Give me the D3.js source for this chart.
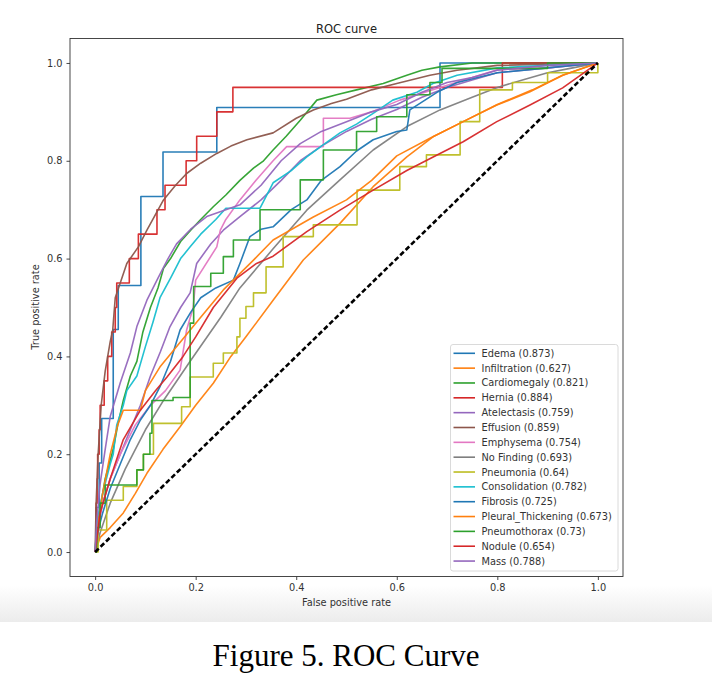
<!DOCTYPE html>
<html><head><meta charset="utf-8">
<script src="https://cdn.jsdelivr.net/npm/d3@7"></script>
<style>body{margin:0;background:#fff}</style>
</head><body><svg id="c" width="712" height="688"></svg>
<script>
const labels = ["Edema","Infiltration","Cardiomegaly","Hernia","Atelectasis","Effusion","Emphysema","No Finding","Pneumonia","Consolidation","Fibrosis","Pleural_Thickening","Pneumothorax","Nodule","Mass"];
const aucs = ["0.873","0.627","0.821","0.884","0.759","0.859","0.754","0.693","0.64","0.782","0.725","0.673","0.73","0.654","0.788"];
const palette = ["#1f77b4","#ff7f0e","#2ca02c","#d62728","#9467bd","#8c564b","#e377c2","#7f7f7f","#bcbd22","#17becf"];
const xTicks = [0,0.2,0.4,0.6,0.8,1.0];
const yTicks = [0,0.2,0.4,0.6,0.8,1.0];
const stepped = ["Edema","Hernia","Pneumothorax","Pneumonia"];

// ROC points [fpr, tpr]
const edema = [[0,0],[0.002,0.091],[0.008,0.182],[0.013,0.273],[0.036,0.455],[0.046,0.545],[0.091,0.727],[0.135,0.818],[0.242,0.909],[0.686,1.0],[1,1]];
const infiltration = [[0,0],[0.01,0.03],[0.03,0.05],[0.056,0.08],[0.08,0.12],[0.103,0.161],[0.135,0.21],[0.169,0.256],[0.2,0.3],[0.235,0.345],[0.27,0.4],[0.30,0.44],[0.354,0.515],[0.414,0.597],[0.487,0.672],[0.553,0.747],[0.62,0.808],[0.672,0.849],[0.732,0.88],[0.8,0.915],[0.87,0.945],[0.93,0.975],[1,1]];
const cardiomegaly = [[0,0],[0.003,0.05],[0.01,0.09],[0.02,0.15],[0.036,0.21],[0.045,0.26],[0.056,0.31],[0.07,0.36],[0.083,0.39],[0.095,0.45],[0.11,0.5],[0.125,0.54],[0.136,0.58],[0.15,0.6],[0.17,0.635],[0.19,0.658],[0.21,0.68],[0.235,0.706],[0.26,0.73],[0.288,0.76],[0.315,0.785],[0.335,0.80],[0.354,0.822],[0.38,0.85],[0.408,0.883],[0.441,0.924],[0.48,0.935],[0.52,0.945],[0.573,0.958],[0.62,0.975],[0.65,0.985],[0.686,0.992],[0.75,1],[1,1]];
const hernia = [[0,0],[0.002,0.10],[0.004,0.15],[0.005,0.20],[0.008,0.25],[0.010,0.30],[0.018,0.35],[0.025,0.40],[0.033,0.45],[0.040,0.50],[0.043,0.55],[0.068,0.60],[0.086,0.65],[0.123,0.70],[0.139,0.75],[0.181,0.80],[0.202,0.85],[0.242,0.90],[0.274,0.95],[0.81,1.0],[1,1]];
const atelectasis = [[0,0],[0.005,0.05],[0.015,0.1],[0.03,0.15],[0.05,0.2],[0.07,0.25],[0.09,0.3],[0.11,0.36],[0.13,0.41],[0.149,0.461],[0.17,0.5],[0.189,0.53],[0.202,0.59],[0.23,0.63],[0.255,0.658],[0.288,0.686],[0.33,0.72],[0.37,0.76],[0.408,0.80],[0.45,0.83],[0.5,0.86],[0.55,0.885],[0.6,0.905],[0.65,0.93],[0.7,0.95],[0.75,0.965],[0.8,0.98],[0.9,0.99],[1,1]];
const effusion = [[0,0],[0.002,0.1],[0.006,0.2],[0.012,0.3],[0.02,0.37],[0.03,0.43],[0.035,0.454],[0.04,0.52],[0.063,0.59],[0.086,0.624],[0.103,0.658],[0.136,0.72],[0.16,0.75],[0.182,0.774],[0.21,0.795],[0.242,0.815],[0.27,0.83],[0.302,0.843],[0.354,0.857],[0.40,0.887],[0.434,0.904],[0.47,0.917],[0.50,0.926],[0.55,0.945],[0.60,0.958],[0.666,0.975],[0.72,0.985],[0.80,0.995],[1,1]];
const emphysema = [[0,0],[0.005,0.05],[0.015,0.1],[0.03,0.15],[0.05,0.2],[0.08,0.26],[0.11,0.3],[0.14,0.33],[0.169,0.372],[0.182,0.454],[0.195,0.5],[0.2,0.556],[0.242,0.624],[0.249,0.658],[0.26,0.68],[0.288,0.72],[0.32,0.76],[0.354,0.80],[0.381,0.829],[0.454,0.829],[0.454,0.887],[0.507,0.887],[0.55,0.9],[0.606,0.924],[0.686,0.95],[0.75,0.97],[0.8,0.986],[0.9,0.99],[1,1]];
const noFinding = [[0,0],[0.01,0.04],[0.03,0.1],[0.06,0.17],[0.1,0.25],[0.136,0.31],[0.189,0.39],[0.25,0.48],[0.288,0.54],[0.354,0.62],[0.421,0.699],[0.487,0.761],[0.553,0.822],[0.62,0.87],[0.686,0.904],[0.75,0.93],[0.8,0.95],[0.85,0.965],[0.9,0.98],[0.95,0.99],[1,1]];
const pneumonia = [[0,0],[0.006,0.045],[0.023,0.106],[0.056,0.134],[0.083,0.168],[0.096,0.2],[0.116,0.263],[0.172,0.297],[0.189,0.358],[0.235,0.386],[0.255,0.407],[0.282,0.44],[0.288,0.478],[0.30,0.502],[0.315,0.53],[0.34,0.583],[0.374,0.645],[0.434,0.669],[0.521,0.74],[0.606,0.788],[0.659,0.812],[0.726,0.88],[0.765,0.945],[0.83,0.96],[0.9,0.98],[1,1]];
const consolidation = [[0,0],[0.005,0.07],[0.015,0.12],[0.03,0.18],[0.036,0.2],[0.043,0.26],[0.056,0.3],[0.063,0.33],[0.083,0.36],[0.1,0.42],[0.115,0.47],[0.129,0.52],[0.15,0.56],[0.17,0.6],[0.189,0.624],[0.21,0.65],[0.24,0.68],[0.26,0.703],[0.328,0.703],[0.354,0.755],[0.39,0.78],[0.421,0.808],[0.45,0.83],[0.487,0.857],[0.52,0.875],[0.553,0.897],[0.592,0.924],[0.64,0.94],[0.672,0.958],[0.72,0.975],[0.8,0.99],[0.9,0.995],[1,1]];
const fibrosis = [[0,0],[0.005,0.04],[0.015,0.08],[0.03,0.13],[0.05,0.18],[0.07,0.23],[0.09,0.27],[0.11,0.3],[0.129,0.338],[0.15,0.39],[0.169,0.454],[0.19,0.49],[0.21,0.52],[0.24,0.54],[0.275,0.556],[0.288,0.59],[0.308,0.645],[0.33,0.66],[0.354,0.665],[0.39,0.7],[0.421,0.72],[0.45,0.76],[0.487,0.788],[0.52,0.82],[0.553,0.843],[0.6,0.86],[0.62,0.863],[0.626,0.904],[0.68,0.94],[0.72,0.96],[0.8,0.98],[0.9,0.99],[1,1]];
const pleuralThickening = [[0,0],[0.005,0.05],[0.015,0.12],[0.03,0.2],[0.045,0.26],[0.056,0.29],[0.09,0.29],[0.1,0.33],[0.13,0.38],[0.17,0.43],[0.21,0.48],[0.255,0.536],[0.315,0.597],[0.354,0.638],[0.4,0.665],[0.434,0.685],[0.5,0.72],[0.55,0.76],[0.6,0.81],[0.666,0.846],[0.732,0.88],[0.799,0.914],[0.865,0.941],[0.93,0.975],[1,1]];
const pneumothorax = [[0,0],[0.003,0.05],[0.01,0.1],[0.02,0.137],[0.083,0.168],[0.096,0.2],[0.109,0.243],[0.113,0.31],[0.155,0.316],[0.189,0.468],[0.196,0.543],[0.23,0.57],[0.255,0.604],[0.275,0.638],[0.328,0.70],[0.408,0.761],[0.454,0.822],[0.52,0.86],[0.56,0.89],[0.62,0.935],[0.666,0.96],[0.69,0.989],[0.9,1],[1,1]];
const nodule = [[0,0],[0.01,0.08],[0.03,0.15],[0.056,0.23],[0.09,0.29],[0.12,0.33],[0.143,0.358],[0.175,0.40],[0.2,0.44],[0.235,0.5],[0.282,0.56],[0.321,0.59],[0.354,0.605],[0.421,0.655],[0.487,0.699],[0.553,0.74],[0.62,0.78],[0.686,0.815],[0.732,0.839],[0.799,0.88],[0.865,0.914],[0.93,0.949],[1,1]];
const mass = [[0,0],[0.003,0.06],[0.01,0.14],[0.02,0.21],[0.03,0.277],[0.05,0.346],[0.07,0.407],[0.083,0.461],[0.103,0.515],[0.125,0.56],[0.145,0.6],[0.162,0.63],[0.19,0.66],[0.222,0.686],[0.26,0.70],[0.288,0.71],[0.33,0.75],[0.37,0.8],[0.408,0.835],[0.45,0.86],[0.5,0.88],[0.55,0.9],[0.6,0.915],[0.65,0.94],[0.7,0.96],[0.75,0.97],[0.8,0.985],[0.9,0.995],[1,1]];
const diagonal = [[0,0],[1,1]];

const curves = [edema, infiltration, cardiomegaly, hernia, atelectasis, effusion, emphysema, noFinding, pneumonia, consolidation, fibrosis, pleuralThickening, pneumothorax, nodule, mass];

const svg = d3.select("#c");
const font = "DejaVu Sans, sans-serif";
const fs = 9.8;
const x = d3.scaleLinear().domain([-0.05, 1.05]).range([70, 623]);
const y = d3.scaleLinear().domain([-0.05, 1.05]).range([576.5, 38.5]);

// bottom shading band (screenshot)
const defs = svg.append("defs");
const g1 = defs.append("linearGradient").attr("id","shade").attr("x1",0).attr("y1",0).attr("x2",0).attr("y2",1);
g1.append("stop").attr("offset","0%").attr("stop-color","#ffffff");
g1.append("stop").attr("offset","100%").attr("stop-color","#ececec");
svg.append("rect").attr("x",0).attr("y",585).attr("width",712).attr("height",37).attr("fill","url(#shade)");
defs.append("clipPath").attr("id","clip").append("rect")
  .attr("x",70).attr("y",38.5).attr("width",553).attr("height",538);

// curves
const lineLin = d3.line().x(d => x(d[0])).y(d => y(d[1]));
const lineStep = d3.line().x(d => x(d[0])).y(d => y(d[1])).curve(d3.curveStepAfter);
const plot = svg.append("g").attr("clip-path","url(#clip)");
curves.forEach((c, i) => {
  plot.append("path").datum(c)
    .attr("d", stepped.includes(labels[i]) ? lineStep : lineLin)
    .attr("fill","none").attr("stroke", palette[i % 10])
    .attr("stroke-width",1.6).attr("stroke-linejoin","round").attr("opacity",0.95);
});
plot.append("path").datum(diagonal).attr("d", lineLin)
  .attr("fill","none").attr("stroke","#000").attr("stroke-width",2.6)
  .attr("stroke-dasharray","5,2.6");

// axes
const xa = svg.append("g").attr("transform","translate(0,576.5)")
  .call(d3.axisBottom(x).tickValues(xTicks).tickFormat(d3.format(".1f")).tickSize(3.5).tickPadding(4));
const ya = svg.append("g").attr("transform","translate(70,0)")
  .call(d3.axisLeft(y).tickValues(yTicks).tickFormat(d3.format(".1f")).tickSize(3.5).tickPadding(4));
[xa, ya].forEach(a => {
  a.select(".domain").remove();
  a.selectAll("line").attr("stroke","#333").attr("stroke-width",0.9);
  a.selectAll("text").attr("font-family",font).attr("font-size",fs).attr("fill","#333");
});
svg.append("rect").attr("x",70).attr("y",38.5).attr("width",553).attr("height",538)
  .attr("fill","none").attr("stroke","#333").attr("stroke-width",0.9);

svg.append("text").attr("x",346.5).attr("y",33).attr("text-anchor","middle")
  .attr("font-family",font).attr("font-size",11.5).attr("fill","#222").text("ROC curve");
svg.append("text").attr("x",346.5).attr("y",606).attr("text-anchor","middle")
  .attr("font-family",font).attr("font-size",fs).attr("fill","#333").text("False positive rate");
svg.append("text").attr("transform","translate(39,307) rotate(-90)").attr("text-anchor","middle")
  .attr("font-family",font).attr("font-size",fs).attr("fill","#333").text("True positive rate");

// legend
const lg = svg.append("g");
lg.append("rect").attr("x",450.5).attr("y",344.5).attr("width",167.5).attr("height",226.5).attr("rx",2.5)
  .attr("fill","#fff").attr("stroke","#d6d6d6").attr("stroke-width",0.9);
labels.forEach((l, i) => {
  const yy = 353.3 + i * 14.84;
  lg.append("line").attr("x1",453.5).attr("x2",475).attr("y1",yy).attr("y2",yy)
    .attr("stroke", palette[i % 10]).attr("stroke-width",1.6);
  lg.append("text").attr("x",481.5).attr("y",yy + 3.5)
    .attr("font-family",font).attr("font-size",fs).attr("fill","#333")
    .text(l + " (" + aucs[i] + ")");
});

// caption
svg.append("text").attr("x",346).attr("y",666).attr("text-anchor","middle")
  .attr("font-family","Liberation Serif, Times New Roman, serif").attr("font-size",31).attr("fill","#000")
  .text("Figure 5. ROC Curve");
</script></body></html>
